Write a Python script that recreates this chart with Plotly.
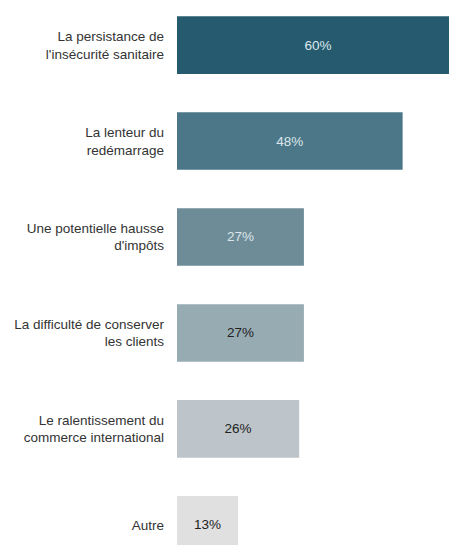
import plotly.graph_objects as go

categories = [
    "La persistance de<br>l'insécurité sanitaire",
    "La lenteur du<br>redémarrage",
    "Une potentielle hausse<br>d'impôts",
    "La difficulté de conserver<br>les clients",
    "Le ralentissement du<br>commerce international",
    "Autre",
]
values = [60, 48, 27, 27, 26, 13]
bar_colors = ["#265b6f", "#4b7788", "#6e8c98", "#97abb3", "#bdc5ca", "#e0e0e0"]
text_colors = ["#dde7eb", "#dde7eb", "#dde7eb", "#222222", "#222222", "#222222"]

fig = go.Figure(go.Bar(
    y=categories,
    x=values,
    orientation="h",
    marker=dict(color=bar_colors, line=dict(width=0)),
    text=[f"{v}%" for v in values],
    textposition="inside",
    insidetextanchor="middle",
    textfont=dict(family="Liberation Sans, Arial", size=13.5, color=text_colors),
    width=0.6,
    cliponaxis=True,
))

fig.update_layout(
    width=449,
    height=545,
    margin=dict(l=177, r=0, t=0, b=0),
    paper_bgcolor="white",
    plot_bgcolor="white",
    showlegend=False,
    font=dict(family="Liberation Sans, Arial", size=13.5, color="#333333"),
)
fig.update_xaxes(range=[0, 57.87], visible=False, showgrid=False, zeroline=False)
fig.update_yaxes(
    type="category",
    range=[5.21, -0.47],
    showgrid=False,
    zeroline=False,
    showline=False,
    ticks="",
    ticklabelstandoff=12,
    tickfont=dict(family="Liberation Sans, Arial", size=13.5, color="#333333"),
)

fig.write_html(
    "out.html",
    config={"displayModeBar": False},
    post_script="document.body.style.margin='0';document.body.style.overflow='hidden';",
)
